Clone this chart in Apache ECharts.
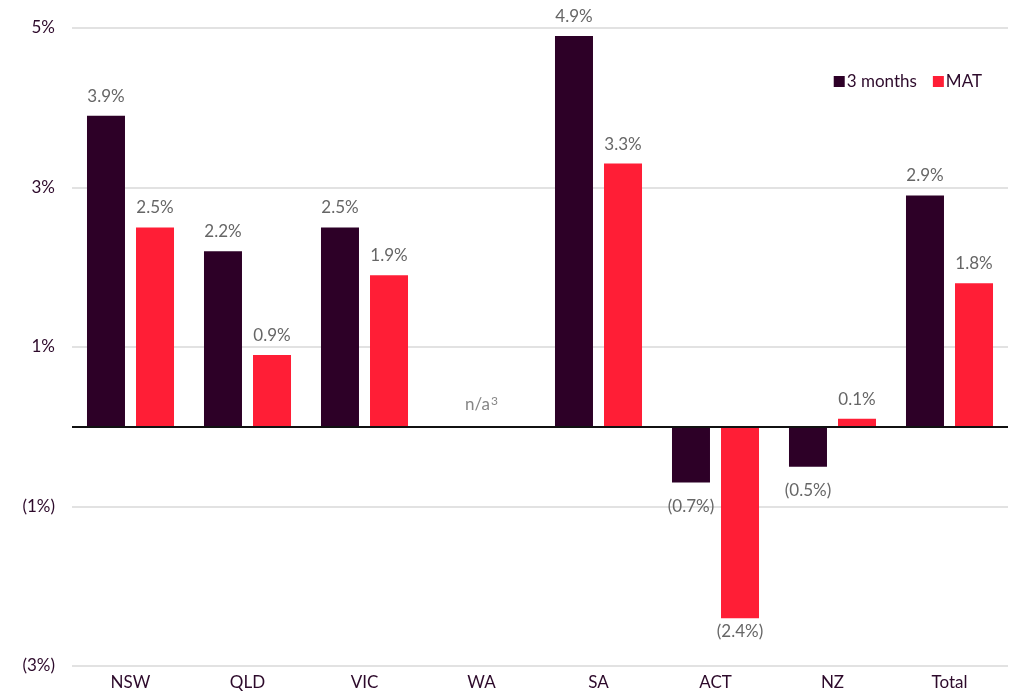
<!DOCTYPE html>
<html>
<head>
<meta charset="utf-8">
<script src="https://cdn.jsdelivr.net/npm/echarts@6/dist/echarts.min.js"></script>
<style>
  html, body { margin: 0; padding: 0; background: #fff; }
  #chart { width: 1013px; height: 692px; }
</style>
</head>
<body>
<div id="chart"></div>
<script>
var categories = ['NSW', 'QLD', 'VIC', 'WA', 'SA', 'ACT', 'NZ', 'Total'];
var threeMonths = [3.9, 2.2, 2.5, null, 4.9, -0.7, -0.5, 2.9];
var mat = [2.5, 0.9, 1.9, null, 3.3, -2.4, 0.1, 1.8];
var naCategory = 'WA';

var fontFamily = 'Lato, "Open Sans", sans-serif';
var fontSize = 17;

function fmt(v) {
    if (v == null) return '';
    return v < 0 ? '(' + Math.abs(v).toFixed(1) + '%)' : v.toFixed(1) + '%';
}
// negative labels sit under the bar; short ones are pushed a bit further down
function toItems(arr) {
    return arr.map(function (v) {
        if (v == null || v >= 0) return { value: v, label: { position: 'top' } };
        return { value: v, label: { position: 'bottom', distance: v > -1 ? 15 : 5 } };
    });
}
var labelStyle = {
    show: true,
    distance: 11,
    color: '#666',
    fontSize: fontSize,
    fontFamily: fontFamily,
    formatter: function (p) { return fmt(p.value); }
};

var chart = echarts.init(document.getElementById('chart'));
chart.setOption({
    animation: false,
    legend: {
        right: 26,
        top: 68,
        itemWidth: 11,
        itemHeight: 11,
        itemGap: 16,
        icon: 'rect',
        textStyle: { color: '#2d0a2b', fontSize: fontSize, fontFamily: fontFamily, padding: [0, 0, 0, -3] },
        data: ['3 months', 'MAT']
    },
    grid: { left: 72, right: 5, top: 28, bottom: 26 },
    xAxis: {
        type: 'category',
        data: categories,
        axisLine: { show: false },
        axisTick: { show: false },
        axisLabel: { color: '#2d0a2b', fontSize: fontSize, fontFamily: fontFamily, margin: 8 }
    },
    yAxis: {
        type: 'value',
        min: -3,
        max: 5,
        interval: 2,
        axisLine: { show: false },
        axisTick: { show: false },
        splitLine: { lineStyle: { color: '#d9d9d9', width: 1.5 } },
        axisLabel: {
            color: '#2d0a2b',
            fontSize: fontSize,
            fontFamily: fontFamily,
            margin: 17,
            formatter: function (v) { return v < 0 ? '(' + Math.abs(v) + '%)' : v + '%'; }
        }
    },
    series: [
        {
            name: '3 months',
            type: 'bar',
            barWidth: 38,
            barGap: '29%',
            itemStyle: { color: '#2d0027' },
            label: labelStyle,
            data: toItems(threeMonths),
            markLine: {
                silent: true,
                symbol: 'none',
                label: { show: false },
                lineStyle: { color: '#111', width: 2, type: 'solid' },
                data: [{ yAxis: 0 }]
            }
        },
        {
            name: 'MAT',
            type: 'bar',
            barWidth: 38,
            itemStyle: { color: '#ff1e36' },
            label: labelStyle,
            data: toItems(mat)
        },
        {
            name: 'n/a',
            type: 'scatter',
            symbolSize: 0,
            silent: true,
            data: [[naCategory, 0]],
            label: {
                show: true,
                position: 'top',
                distance: 12,
                formatter: '{a|n/a}{s|3}',
                rich: {
                    a: { color: '#666', fontSize: fontSize, fontFamily: fontFamily, lineHeight: 20 },
                    s: { color: '#666', fontSize: 12, fontFamily: fontFamily, lineHeight: 20, padding: [0, 0, 8, 1] }
                }
            }
        }
    ]
});
</script>
</body>
</html>
